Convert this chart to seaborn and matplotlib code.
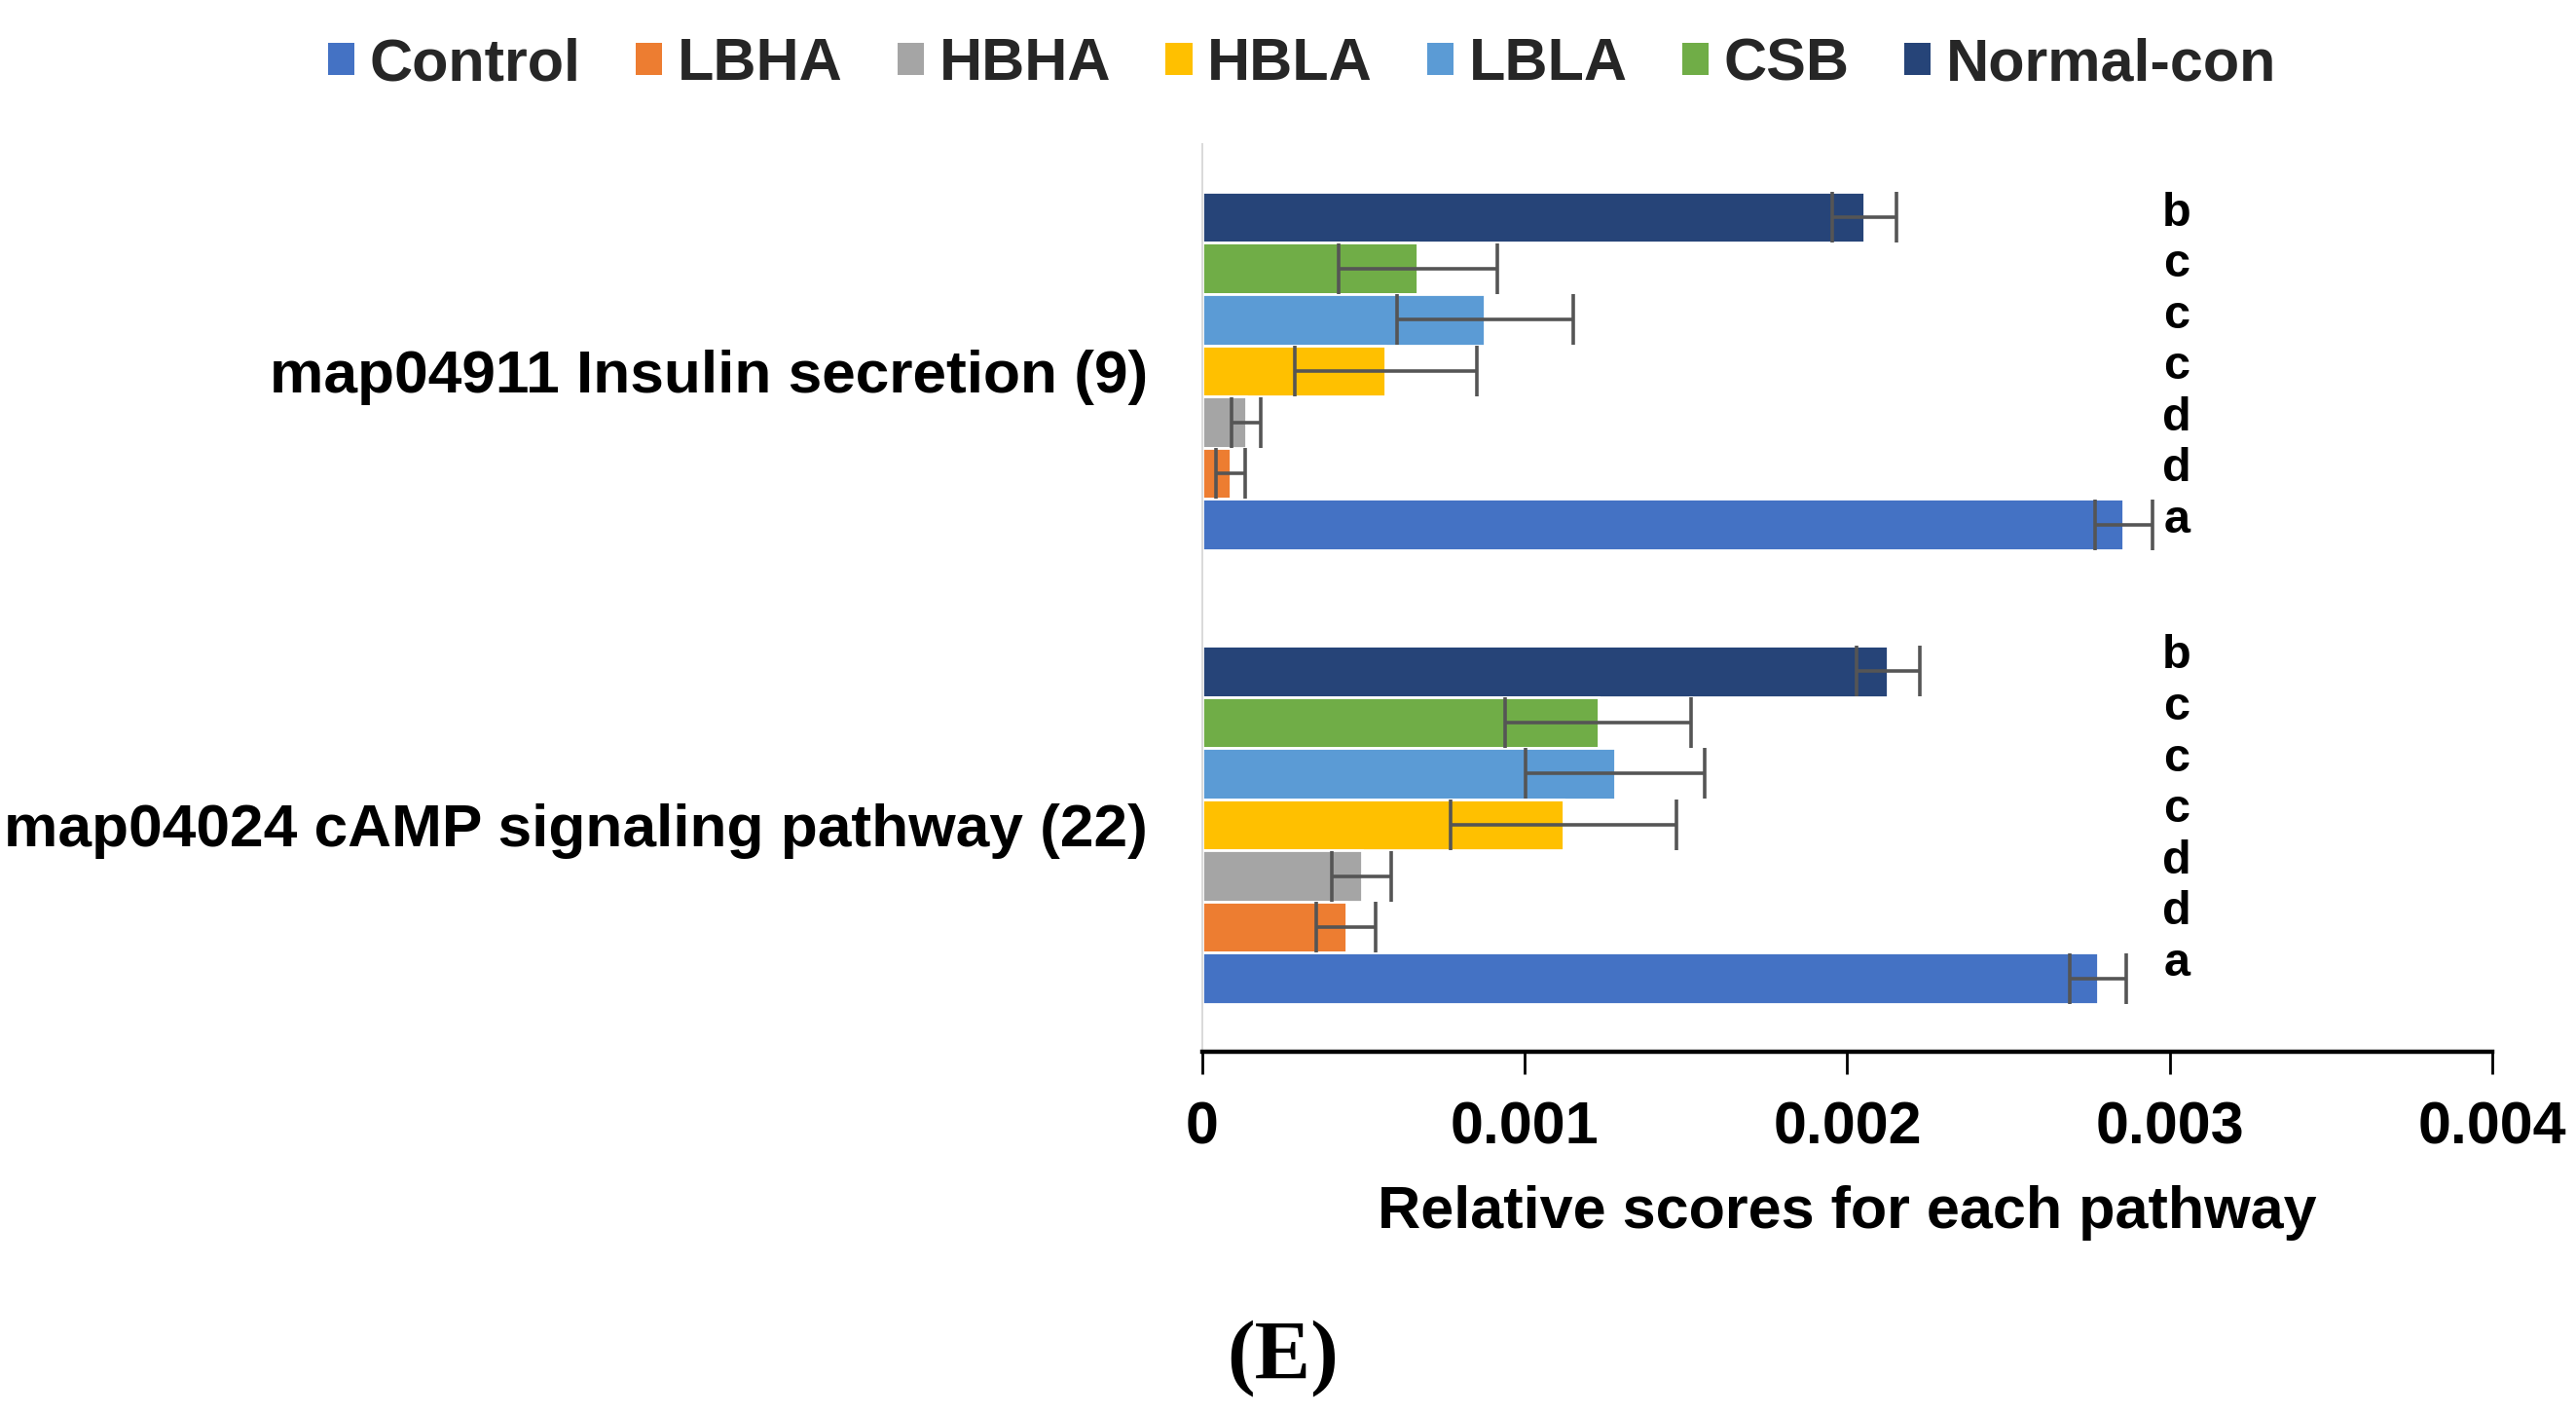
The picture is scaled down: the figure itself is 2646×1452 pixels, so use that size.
import numpy as np
import pandas as pd
import matplotlib
matplotlib.use('Agg')
import matplotlib.pyplot as plt
import seaborn as sns
from matplotlib.patches import Patch

groups = ['Control', 'LBHA', 'HBHA', 'HBLA', 'LBLA', 'CSB', 'Normal-con']
colors = ['#4472C4', '#ED7D31', '#A5A5A5', '#FFC000', '#5B9BD5', '#70AD47', '#264478']
pathways = ['map04911 Insulin secretion (9)', 'map04024 cAMP signaling pathway (22)']

insulin_mean = [0.002857, 0.000088, 0.000137, 0.000569, 0.000877, 0.000668, 0.002054]
insulin_err = [0.00009, 0.000044, 0.000045, 0.000283, 0.000272, 0.000246, 0.0001]
insulin_sig = ['a', 'd', 'd', 'c', 'c', 'c', 'b']

camp_mean = [0.002777, 0.000447, 0.000495, 0.00112, 0.00128, 0.001228, 0.002126]
camp_err = [0.000088, 0.000092, 0.000092, 0.00035, 0.000277, 0.000289, 0.000098]
camp_sig = ['a', 'd', 'd', 'c', 'c', 'c', 'b']

xtick_vals = [0, 0.001, 0.002, 0.003, 0.004]
xtick_labels = ['0', '0.001', '0.002', '0.003', '0.004']

df = pd.DataFrame({
    'pathway': [pathways[0]] * 7 + [pathways[1]] * 7,
    'group': groups * 2,
    'score': insulin_mean + camp_mean,
    'err': insulin_err + camp_err,
    'sig': insulin_sig + camp_sig,
})

sns.set_theme(style='white')
plt.rcParams['font.family'] = ['Liberation Sans', 'DejaVu Sans']
plt.rcParams['font.weight'] = 'bold'

fig = plt.figure(figsize=(13.23, 7.26), dpi=200)
ax = fig.add_axes([0.4667, 0.2562, 0.5008, 0.6419])

# excel draws the first series at the bottom of each group
hue_order = groups[::-1]
pal = dict(zip(groups, colors))
sns.barplot(data=df, x='score', y='pathway', hue='group', order=pathways,
            hue_order=hue_order, palette=pal, orient='h', width=0.79, gap=0,
            legend=False, saturation=1, ax=ax)

# letters sit a bit higher in the lower group
sig_shift = {pathways[0]: -3, pathways[1]: 1}

lookup = df.set_index(['pathway', 'group'])
for cont, g in zip(ax.containers, hue_order):
    for bar, p in zip(cont, pathways):
        w = bar.get_width()
        yc = bar.get_y() + bar.get_height() / 2
        e = lookup.loc[(p, g), 'err']
        ax.errorbar(w, yc, xerr=e, fmt='none', ecolor='#555555',
                    elinewidth=1.3, capsize=9.5, capthick=1.3)
        ax.annotate(lookup.loc[(p, g), 'sig'], xy=(0.7555, yc),
                    xycoords=('axes fraction', 'data'), xytext=(0, sig_shift[p]),
                    textcoords='offset points', ha='center', va='baseline',
                    fontsize=17.5, fontweight='bold', color='black')

ax.set_xlim(0, 0.004)
ax.set_ylim(1.5, -0.5)
ax.set_xticks(xtick_vals)
ax.set_xticklabels(xtick_labels)
ax.tick_params(axis='x', direction='out', length=8.3, width=1, color='black',
               pad=10, labelsize=22, bottom=True)
ax.tick_params(axis='y', length=0, pad=20, labelsize=22.4)
for lab in ax.get_xticklabels() + ax.get_yticklabels():
    lab.set_fontweight('bold')
    lab.set_color('black')

for s in ['top', 'right']:
    ax.spines[s].set_visible(False)
ax.spines['bottom'].set_color('black')
ax.spines['bottom'].set_linewidth(1.6)
ax.spines['left'].set_color('#d9d9d9')
ax.spines['left'].set_linewidth(0.7)

ax.set_xlabel('Relative scores for each pathway', fontsize=22, fontweight='bold',
              labelpad=10.5, color='black')
ax.set_ylabel('')

handles = [Patch(facecolor=c, edgecolor='none') for c in colors]
fig.legend(handles, groups, loc='center', bbox_to_anchor=(0.5055, 0.954), ncol=7,
           frameon=False, handlelength=0.45, handleheight=0.45,
           handletextpad=0.25, columnspacing=0.92,
           prop={'weight': 'bold', 'size': 22})

fig.text(0.498, 0.0393, '(E)', family='Liberation Serif', fontweight='bold',
         fontsize=31, ha='center', va='center', color='black')

fig.savefig('out.png', dpi=200)
